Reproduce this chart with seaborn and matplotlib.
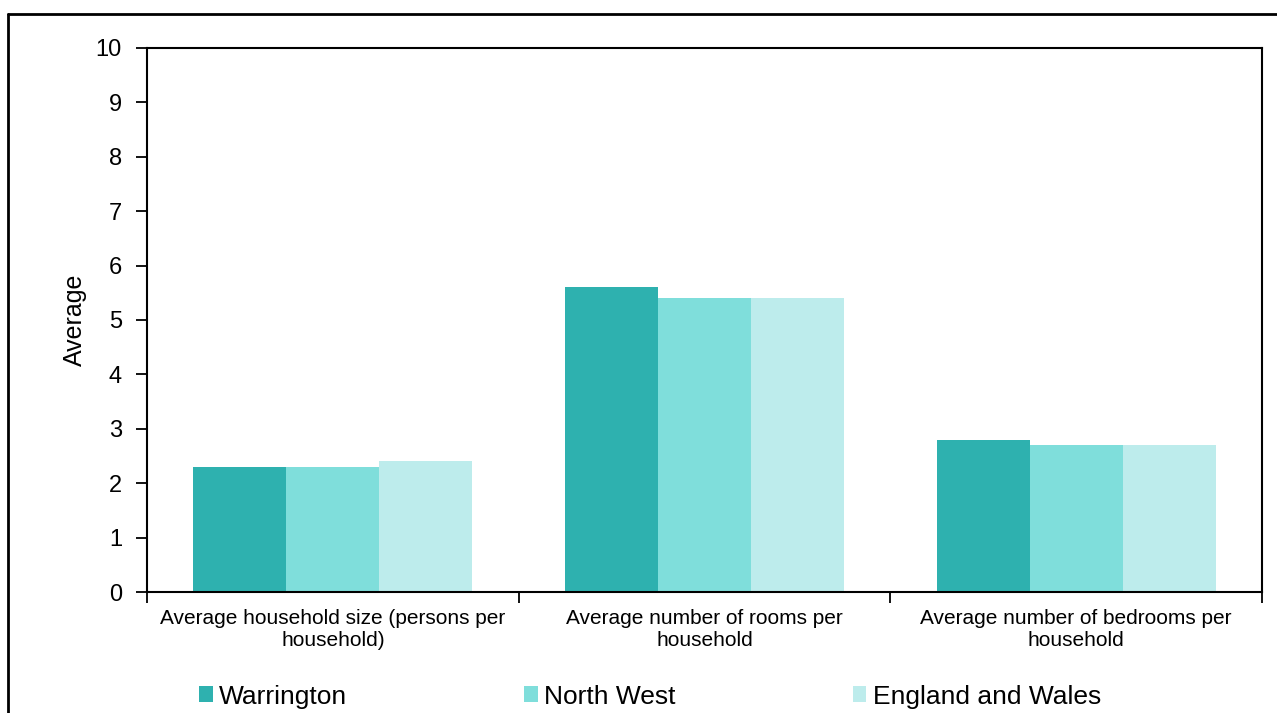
import pandas as pd
import matplotlib.pyplot as plt
import seaborn as sns
from matplotlib.lines import Line2D

# Data
categories = ['Average household size (persons per\nhousehold)',
              'Average number of rooms per\nhousehold',
              'Average number of bedrooms per\nhousehold']
areas = ['Warrington', 'North West', 'England and Wales']
warrington = [2.3, 5.6, 2.8]
north_west = [2.3, 5.4, 2.7]
england_wales = [2.4, 5.4, 2.7]
colors = ['#2EB1AF', '#7FDEDB', '#BDECEC']

df = pd.DataFrame({
    'category': categories * 3,
    'area': [a for a in areas for _ in categories],
    'value': warrington + north_west + england_wales,
})

sns.set_style('white')
plt.rcParams['font.family'] = ['Liberation Sans', 'DejaVu Sans']
plt.rcParams['text.color'] = 'black'
plt.rcParams['axes.labelcolor'] = 'black'
plt.rcParams['xtick.color'] = 'black'
plt.rcParams['ytick.color'] = 'black'

fig = plt.figure(figsize=(12.77, 7.13), dpi=100)
ax = fig.add_axes([0.1151, 0.1697, 0.8732, 0.763])

sns.barplot(data=df, x='category', y='value', hue='area', palette=colors,
            width=0.75, saturation=1, linewidth=0, ax=ax, legend=True)

ax.set_ylim(0, 10)
ax.set_yticks(range(0, 11))
ax.set_xlim(-0.5, 2.5)
ax.set_xlabel('')
ax.set_ylabel('Average', fontsize=18, labelpad=6)
ax.tick_params(axis='y', labelsize=17, length=8, width=1.3, direction='out',
               left=True, pad=10)
ax.tick_params(axis='x', which='major', length=0, labelsize=15, pad=12)
for lbl in ax.get_xticklabels():
    lbl.set_linespacing(1.25)
ax.set_xticks([-0.5, 0.5, 1.5, 2.5], minor=True)
ax.tick_params(axis='x', which='minor', length=8, width=1.3, bottom=True)
for s in ax.spines.values():
    s.set_visible(True)
    s.set_color('black')
    s.set_linewidth(1.5)

# Legend along the bottom
handles, labels = ax.get_legend_handles_labels()
ax.get_legend().remove()
fig.legend(handles, labels, ncol=3, loc='center', bbox_to_anchor=(0.509, 0.023),
           frameon=False, fontsize=19, handlelength=0.53, handleheight=0.53,
           handletextpad=0.23, columnspacing=6.7)

# Outer chart frame (partly cut off)
fig.add_artist(Line2D([8 / 1277, 1], [1 - 14 / 713] * 2, color='black', lw=2))
fig.add_artist(Line2D([8 / 1277] * 2, [0, 1 - 14 / 713], color='black', lw=2))

fig.savefig('out.png', dpi=100)
